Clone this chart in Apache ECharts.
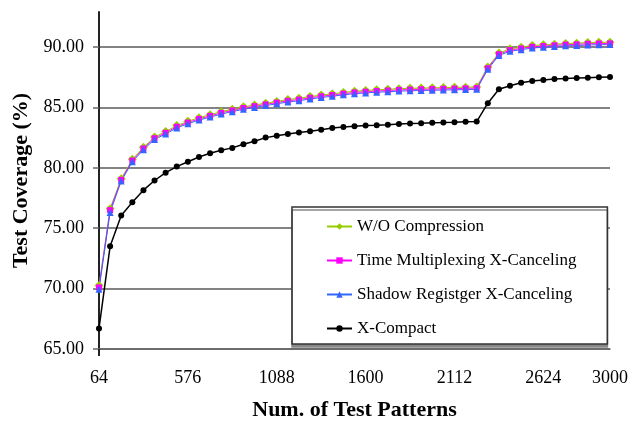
<!DOCTYPE html>
<html>
<head>
<meta charset="utf-8">
<title>Test Coverage</title>
<script src="https://cdn.jsdelivr.net/npm/echarts@6/dist/echarts.min.js"></script>
<style>
  html, body { margin: 0; padding: 0; background: #fff; }
  #chart { width: 628px; height: 421px; }
</style>
</head>
<body>
<div id="chart"></div>
<script>
  // 横轴：测试向量数（类目轴）
  const patterns = [
    64, 128, 192, 256, 320, 384, 448, 512, 576, 640, 704, 768, 832, 896, 960, 1024,
    1088, 1152, 1216, 1280, 1344, 1408, 1472, 1536, 1600, 1664, 1728, 1792, 1856, 1920, 1984, 2048,
    2112, 2176, 2240, 2304, 2368, 2432, 2496, 2560, 2624, 2688, 2752, 2816, 2880, 2944, 3000
  ]

  const woCompression = [
    70.25, 76.62, 79.1, 80.7, 81.7, 82.55, 83.0, 83.5, 83.85, 84.15, 84.4, 84.65, 84.85, 85.05, 85.2, 85.35,
    85.5, 85.65, 85.75, 85.9, 86.02, 86.13, 86.24, 86.34, 86.4, 86.46, 86.5, 86.55, 86.58, 86.6, 86.62, 86.64,
    86.66, 86.68, 86.7, 88.35, 89.5, 89.85, 89.98, 90.12, 90.18, 90.24, 90.3, 90.32, 90.37, 90.39, 90.4
  ]

  const timeMultiplexing = [
    70.1, 76.5, 79.0, 80.6, 81.6, 82.45, 82.9, 83.4, 83.75, 84.05, 84.3, 84.55, 84.75, 84.95, 85.1, 85.25,
    85.4, 85.55, 85.65, 85.8, 85.92, 86.03, 86.14, 86.24, 86.3, 86.36, 86.4, 86.45, 86.48, 86.5, 86.52, 86.54,
    86.56, 86.58, 86.6, 88.25, 89.4, 89.75, 89.88, 90.02, 90.08, 90.14, 90.2, 90.22, 90.27, 90.29, 90.3
  ]

  const shadowRegister = [
    69.95, 76.3, 78.9, 80.5, 81.5, 82.35, 82.8, 83.3, 83.65, 83.95, 84.2, 84.45, 84.65, 84.85, 85.0, 85.15,
    85.3, 85.45, 85.55, 85.7, 85.82, 85.93, 86.04, 86.14, 86.2, 86.26, 86.3, 86.35, 86.38, 86.4, 86.42, 86.44,
    86.46, 86.48, 86.5, 88.15, 89.3, 89.65, 89.78, 89.92, 89.98, 90.04, 90.1, 90.12, 90.17, 90.19, 90.2
  ]

  const xCompact = [
    66.7, 73.5, 76.05, 77.15, 78.15, 78.95, 79.6, 80.1, 80.5, 80.9, 81.2, 81.45, 81.65, 81.95, 82.2, 82.5,
    82.65, 82.8, 82.93, 83.02, 83.15, 83.3, 83.38, 83.45, 83.5, 83.52, 83.56, 83.62, 83.67, 83.69, 83.73, 83.75,
    83.78, 83.82, 83.83, 85.35, 86.5, 86.8, 87.05, 87.18, 87.27, 87.36, 87.39, 87.43, 87.46, 87.49, 87.52
  ]

  const seriesNames = [
    'W/O Compression',
    'Time Multiplexing X-Canceling',
    'Shadow Registger X-Canceling',
    'X-Compact'
  ]

  const FONT = '"Liberation Serif", "Times New Roman", serif'

  function makeLine(name, data, color, symbol, size, width) {
    return {
      name: name,
      type: 'line',
      data: data,
      symbol: symbol,
      symbolSize: size,
      showAllSymbol: true,
      animation: false,
      lineStyle: { color: color, width: width },
      itemStyle: { color: color, borderWidth: 0 }
    }
  }

  const myChart = echarts.init(document.getElementById('chart'))

  myChart.setOption({
    backgroundColor: '#fff',
    animation: false,
    textStyle: { fontFamily: FONT },
    grid: {
      left: 99,
      right: 18,
      top: 12,
      bottom: 72,
      containLabel: false,
      outerBoundsMode: 'none' // 不让标签挤压绘图区
    },
    legend: {
      orient: 'vertical',
      left: 292,
      top: 207,
      padding: [11, 31, 7, 34],
      itemGap: 17,
      itemWidth: 25,
      itemHeight: 8,
      backgroundColor: '#fff',
      borderColor: '#333',
      borderWidth: 1.5,
      borderRadius: 0,
      shadowColor: '#888',
      shadowBlur: 0,
      shadowOffsetX: 0,
      shadowOffsetY: 3,
      data: seriesNames,
      textStyle: {
        fontFamily: FONT,
        fontSize: 17,
        color: '#000',
        lineHeight: 17
      }
    },
    xAxis: {
      type: 'category',
      data: patterns,
      boundaryGap: false,
      name: 'Num. of Test Patterns',
      nameLocation: 'middle',
      nameGap: 50,
      nameTextStyle: {
        fontFamily: FONT,
        fontSize: 22,
        fontWeight: 'bold',
        color: '#000'
      },
      axisLine: {
        show: true,
        lineStyle: { color: '#666', width: 1.5 }
      },
      axisTick: {
        show: true,
        interval: function (index) { return index === 0 },
        length: 7,
        lineStyle: { color: '#222', width: 2 }
      },
      axisLabel: {
        interval: function (index) { return index % 8 === 0 || index === patterns.length - 1 },
        margin: 20,
        fontFamily: FONT,
        fontSize: 18,
        color: '#000'
      },
      splitLine: { show: false }
    },
    yAxis: {
      type: 'value',
      min: 65,
      max: 92.9,
      interval: 5,
      name: 'Test Coverage (%)',
      nameLocation: 'middle',
      nameGap: 66,
      nameTextStyle: {
        fontFamily: FONT,
        fontSize: 22,
        fontWeight: 'bold',
        color: '#000'
      },
      axisLine: {
        show: true,
        lineStyle: { color: '#222', width: 2 }
      },
      axisTick: {
        show: true,
        length: 6,
        lineStyle: { color: '#666', width: 1.5 }
      },
      axisLabel: {
        margin: 15,
        showMaxLabel: false,
        fontFamily: FONT,
        fontSize: 18,
        color: '#000',
        formatter: function (v) { return v.toFixed(2) }
      },
      splitLine: {
        show: true,
        showMaxLine: false,
        lineStyle: { color: '#5a5a5a', width: 1.5 }
      }
    },
    series: [
      makeLine(seriesNames[0], woCompression, '#99cc00', 'diamond', 9, 1),
      makeLine(seriesNames[1], timeMultiplexing, '#ff00ff', 'rect', 6, 1),
      makeLine(seriesNames[2], shadowRegister, '#3366ff', 'triangle', 7, 1),
      makeLine(seriesNames[3], xCompact, '#000000', 'circle', 6, 1.5)
    ]
  })
</script>
</body>
</html>
